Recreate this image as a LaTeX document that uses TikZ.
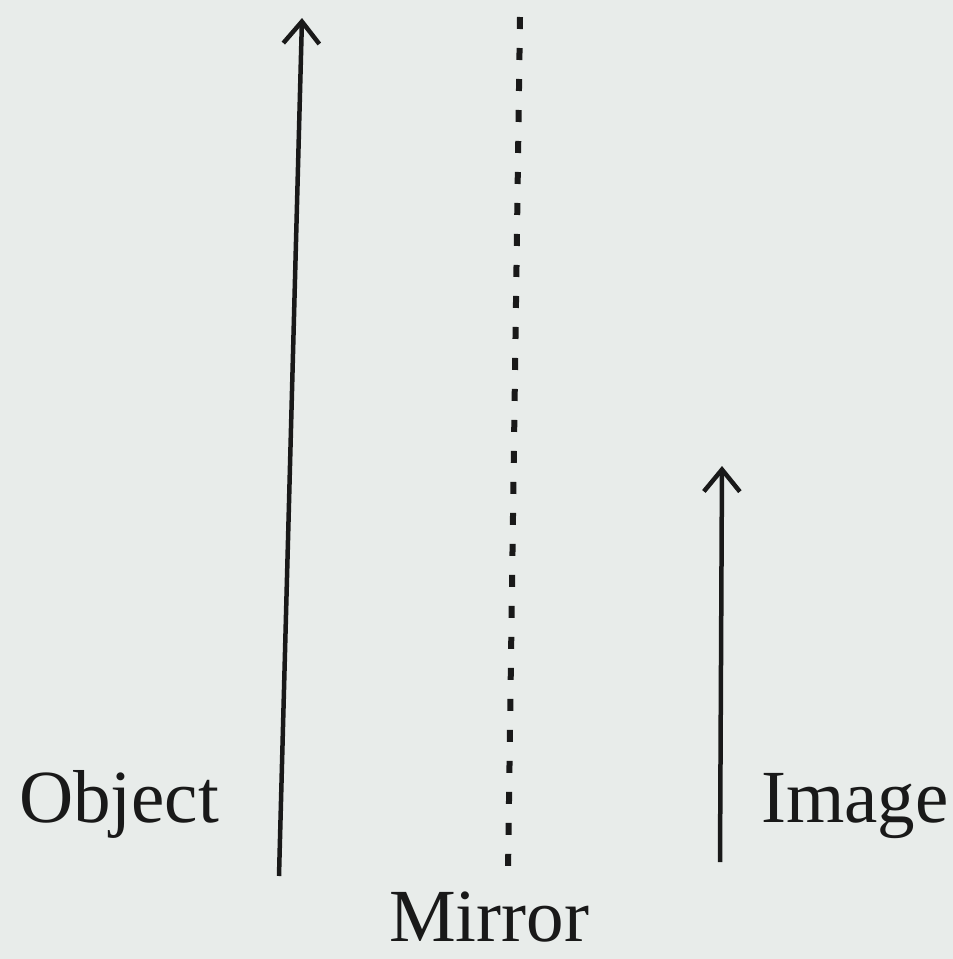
\documentclass[tikz,border=0pt]{standalone}
\usepackage{fontspec}
\setmainfont{Liberation Serif}
\usetikzlibrary{arrows.meta}
\definecolor{paper}{RGB}{232,236,234}
\definecolor{ink}{RGB}{25,25,25}
\tikzset{
  ray/.style={draw=ink, line width=4.5pt, -{Straight Barb[length=22pt,width=36pt,line width=4.5pt]}},
  mirrorline/.style={draw=ink, line width=6pt, dash pattern=on 12pt off 19pt},
  lbl/.style={font=\fontsize{75}{80}\selectfont, text=ink, inner sep=0pt, anchor=base}
}
\begin{document}
\begin{tikzpicture}[x=1pt,y=-1pt]
\fill[paper] (0,0) rectangle (953,959);
\useasboundingbox (0,0) rectangle (953,959);
\coordinate (objB) at (279,876);
\coordinate (objT) at (302,18);
\coordinate (mirT) at (520,17);
\coordinate (mirB) at (508,872);
\coordinate (imgB) at (720,862);
\coordinate (imgT) at (722,466);
\draw[ray] (objB) -- (objT);
\draw[mirrorline] (mirT) -- (mirB);
\draw[ray] (imgB) -- (imgT);
\node[lbl] (object) at (119,822) {Object};
\node[lbl] (mirror) at (489,941) {Mirror};
\node[lbl] (image) at (855,822) {Image};
\end{tikzpicture}
\end{document}
